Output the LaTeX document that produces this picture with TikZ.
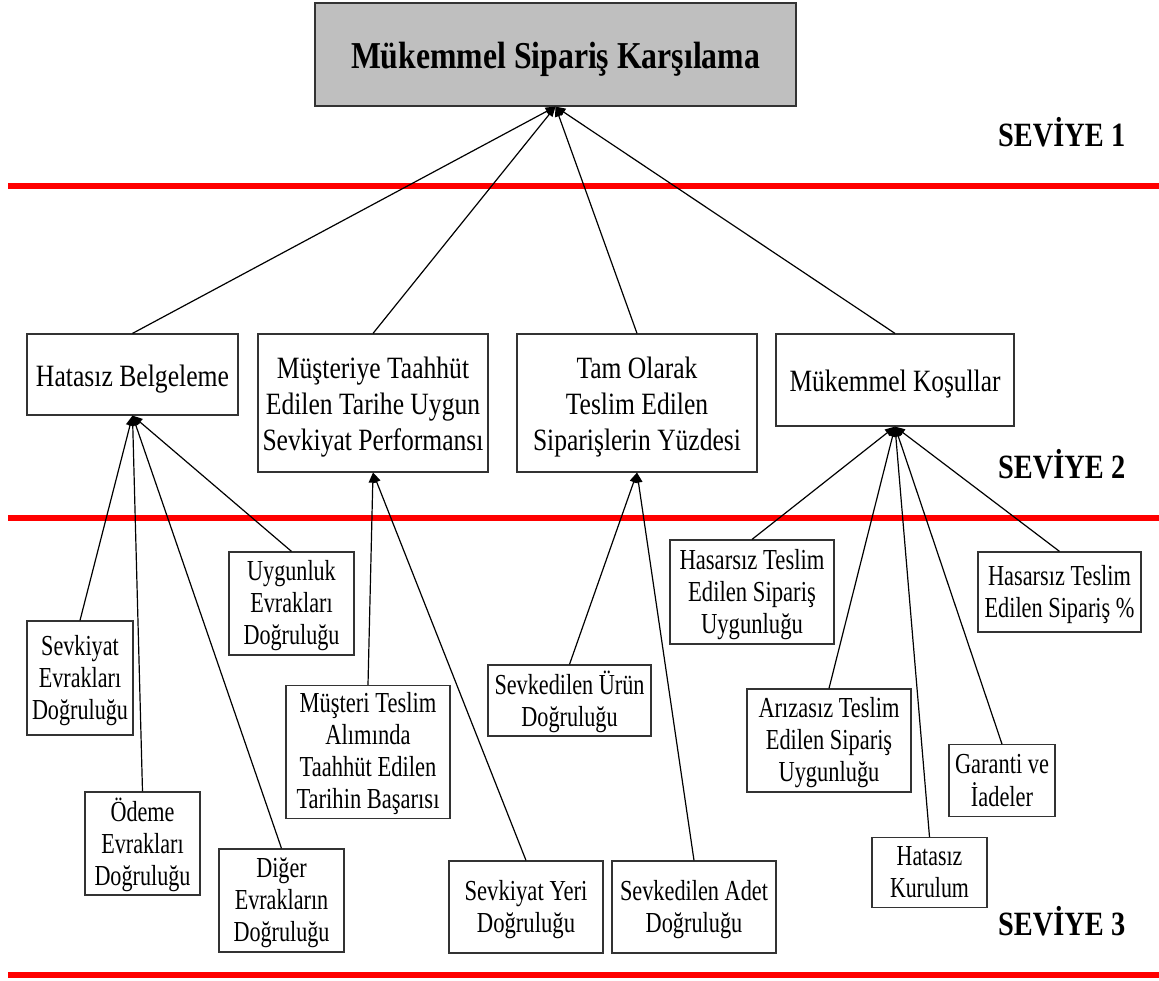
\documentclass[tikz,border=0pt]{standalone}
\usepackage{fontspec}
\usepackage{graphicx}
\setmainfont{Liberation Serif}
\usetikzlibrary{arrows.meta}

% set a block of centred lines to a given width, keeping its height;
% the optional skip adds room above, which lowers the text in its box
\newcommand{\fitlines}[3][0pt]{\vbox{\vskip#1\hbox{\resizebox{#2}{\height}{\begin{tabular}{@{}c@{}}#3\end{tabular}}}}}

\tikzset{
  box/.style={draw=black!80, line width=1.2pt, fill=white, inner sep=0pt,
    anchor=center},
  lvltwo/.style={box, font=\fontsize{31}{36}\selectfont},
  lvlthree/.style={box, font=\fontsize{29}{32}\selectfont},
  conn/.style={line width=1.2pt, -{Triangle[length=10pt,width=8pt]}},
  levelline/.style={red, line width=6pt},
  levellabel/.style={anchor=base west, inner sep=0pt,
    font=\fontsize{34}{36}\selectfont\bfseries}
}

\begin{document}
\begin{tikzpicture}[x=1pt, y=-1pt]
\useasboundingbox[fill=white] (0,0) rectangle (1159,980);

% level separators
\coordinate (l1a) at (8,186);   \coordinate (l1b) at (1159,186);
\coordinate (l2a) at (8,517.5); \coordinate (l2b) at (1159,517.5);
\coordinate (l3a) at (8,975);   \coordinate (l3b) at (1159,975);
\draw[levelline] (l1a) -- (l1b);
\draw[levelline] (l2a) -- (l2b);
\draw[levelline] (l3a) -- (l3b);

% level labels
\node[levellabel] (s1) at (998,146) {\resizebox{127pt}{\height}{SEVİYE 1}};
\node[levellabel] (s2) at (998,478) {\resizebox{127pt}{\height}{SEVİYE 2}};
\node[levellabel] (s3) at (998,935) {\resizebox{127pt}{\height}{SEVİYE 3}};

% level 1
\node[box, fill=black!25, minimum width=481pt, minimum height=103pt,
  font=\fontsize{38}{40}\selectfont\bfseries] (top) at (555.5,54.5)
  {\vbox{\vskip9pt\hbox{\resizebox{409pt}{\height}{Mükemmel Sipariş Karşılama}}}};

% level 2
\node[lvltwo, minimum width=211pt, minimum height=81pt] (hb) at (132.5,374.5)
  {\fitlines[9pt]{193pt}{Hatasız Belgeleme}};
\node[lvltwo, minimum width=230pt, minimum height=138pt] (mt) at (373,403)
  {\fitlines[8pt]{221pt}{Müşteriye Taahhüt\\Edilen Tarihe Uygun\\Sevkiyat Performansı}};
\node[lvltwo, minimum width=240pt, minimum height=138pt] (to) at (637,403)
  {\fitlines[8pt]{208pt}{Tam Olarak\\Teslim Edilen\\Siparişlerin Yüzdesi}};
\node[lvltwo, minimum width=238pt, minimum height=92pt] (mk) at (895,380)
  {\fitlines[9pt]{211pt}{Mükemmel Koşullar}};

% level 3
\node[lvlthree, minimum width=125pt, minimum height=103pt] (ue) at (291.5,603.5)
  {\fitlines[6pt]{96pt}{Uygunluk\\Evrakları\\Doğruluğu}};
\node[lvlthree, minimum width=106pt, minimum height=114pt] (se) at (80,678)
  {\fitlines[6pt]{96pt}{Sevkiyat\\Evrakları\\Doğruluğu}};
\node[lvlthree, minimum width=115pt, minimum height=103pt] (oe) at (142.5,843.5)
  {\fitlines[6pt]{96pt}{Ödeme\\Evrakları\\Doğruluğu}};
\node[lvlthree, minimum width=125pt, minimum height=103pt] (de) at (281.5,900.5)
  {\fitlines[6pt]{96pt}{Diğer\\Evrakların\\Doğruluğu}};
\node[lvlthree, minimum width=164pt, minimum height=126pt] (mtt) at (368,752)
  {\fitlines[5pt]{143pt}{Müşteri Teslim\\Alımında\\Taahhüt Edilen\\Tarihin Başarısı}};
\node[lvlthree, minimum width=154pt, minimum height=92pt] (sy) at (526,907)
  {\fitlines[6pt]{123pt}{Sevkiyat Yeri\\Doğruluğu}};
\node[lvlthree, minimum width=163pt, minimum height=69pt] (su) at (569.5,700.5)
  {\fitlines[6pt]{150pt}{Sevkedilen Ürün\\Doğruluğu}};
\node[lvlthree, minimum width=164pt, minimum height=92pt] (sa) at (694,907)
  {\fitlines[6pt]{148pt}{Sevkedilen Adet\\Doğruluğu}};
\node[lvlthree, minimum width=164pt, minimum height=104pt] (hs) at (752,592)
  {\fitlines[7pt]{145pt}{Hasarsız Teslim\\Edilen Sipariş\\Uygunluğu}};
\node[lvlthree, minimum width=164pt, minimum height=103pt] (as) at (829,740.5)
  {\fitlines[6pt]{141pt}{Arızasız Teslim\\Edilen Sipariş\\Uygunluğu}};
\node[lvlthree, minimum width=115pt, minimum height=69pt] (hk) at (929.5,872.5)
  {\fitlines[6pt]{79pt}{Hatasız\\Kurulum}};
\node[lvlthree, minimum width=106pt, minimum height=69pt] (gi) at (1002,780.5)
  {\fitlines[6pt]{94pt}{Garanti ve\\İadeler}};
\node[lvlthree, minimum width=163pt, minimum height=80pt] (hp) at (1059.5,592)
  {\fitlines[6pt]{150pt}{Hasarsız Teslim\\Edilen Sipariş \%}};

% connectors: level 2 -> level 1
\draw[conn] (hb.north) -- (top.south);
\draw[conn] (mt.north) -- (top.south);
\draw[conn] (to.north) -- (top.south);
\draw[conn] (mk.north) -- (top.south);

% connectors: level 3 -> level 2
\draw[conn] (se.north) -- (hb.south);
\draw[conn] (oe.north) -- (hb.south);
\draw[conn] (de.north) -- (hb.south);
\draw[conn] (ue.north) -- (hb.south);

\draw[conn] (mtt.north) -- (mt.south);
\draw[conn] (sy.north) -- (mt.south);

\draw[conn] (su.north) -- (to.south);
\draw[conn] (sa.north) -- (to.south);

\draw[conn] (hs.north) -- (mk.south);
\draw[conn] (as.north) -- (mk.south);
\draw[conn] (hk.north) -- (mk.south);
\draw[conn] (gi.north) -- (mk.south);
\draw[conn] (hp.north) -- (mk.south);
\end{tikzpicture}
\end{document}
